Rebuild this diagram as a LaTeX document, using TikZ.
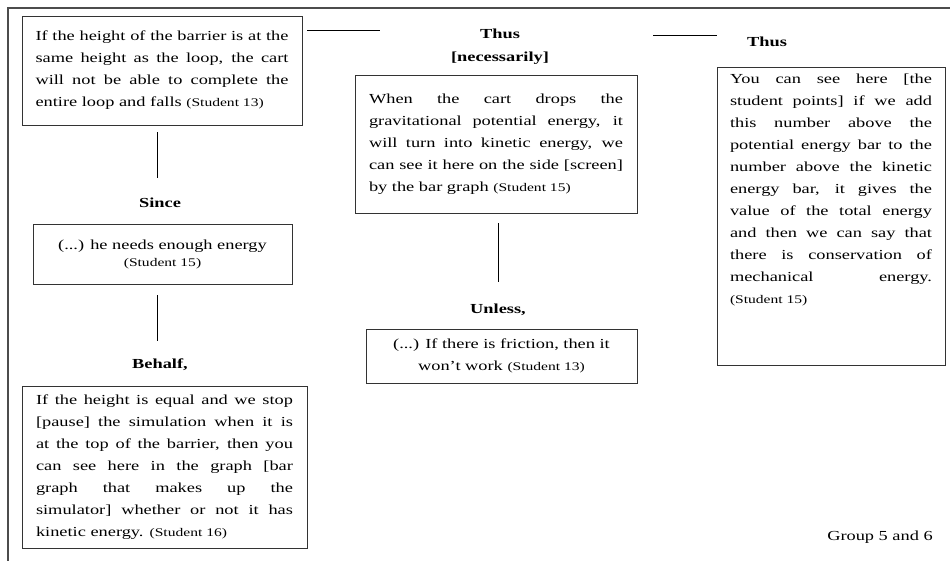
\documentclass[tikz,border=0pt]{standalone}
\usepackage{fontspec}
\setmainfont{Liberation Serif}[FakeStretch=1.33]
\usepackage{tikz}

\newcommand{\who}[1]{{\fontsize{11.7}{14}\selectfont (#1)}}
\newcommand{\nohyph}{\hyphenpenalty=10000 \exhyphenpenalty=10000 \lefthyphenmin=62 \tolerance=9999 \emergencystretch=20pt}

\begin{document}
\begin{tikzpicture}[
  x=1pt, y=-1pt,
  every node/.style={inner sep=0pt, font=\fontsize{13.8}{22}\selectfont},
  quote/.style={draw=black!80, line width=0.9pt, align=justify,
                inner xsep=13pt, inner ysep=4pt},
  centred/.style={draw=black!80, line width=0.9pt, align=center},
  joint/.style={font=\fontsize{13.8}{23}\selectfont\bfseries, align=center},
  link/.style={line width=0.9pt}
]
\useasboundingbox (0,0) rectangle (950,560);
\clip (0,0) rectangle (950,560);
\draw[line width=1.5pt, black!70] (8,8) rectangle (970,580);

\node[quote, text width=253, minimum width=280, minimum height=109] (b1) at (162,70.5)
  {\nohyph If the height of the barrier is at the\linebreak{} same height as the loop, the cart\linebreak{} will not be able to complete the\linebreak{} entire loop and falls \who{Student 13}};
\node[joint] (thus1) at (500,47) {Thus\\{}[necessarily]};
\node[quote, text width=254, minimum width=282, minimum height=138] (b2) at (496,144)
  {\nohyph When the cart drops the\linebreak{} gravitational potential energy, it\linebreak{} will turn into kinetic energy, we\linebreak{} can see it here on the side [screen]\linebreak{} by the bar graph \who{Student 15}};
\node[joint] (thus2) at (767,42) {Thus};
\node[quote, text width=202, minimum width=228, anchor=north, inner ysep=6pt] (b3) at (831,67)
  {\nohyph You can see here [the\linebreak{} student points] if we add\linebreak{} this number above the\linebreak{} potential energy bar to the\linebreak{} number above the kinetic\linebreak{} energy bar, it gives the\linebreak{} value of the total energy\linebreak{} and then we can say that\linebreak{} there is conservation of\linebreak{} mechanical energy.\linebreak{}\who{Student 15}\par\vspace*{34pt}\null};
\node[joint] (since) at (160,203) {Since};
\node[centred, minimum width=259, minimum height=60] (b4) at (162.5,254)
  {(...) he needs enough energy\\[-5pt]\who{Student 15}};
\node[joint] (behalf) at (160,365) {Behalf,};
\node[quote, text width=257, minimum width=285, minimum height=162] (b5) at (164.5,467)
  {\nohyph If the height is equal and we stop\linebreak{} [pause] the simulation when it is\linebreak{} at the top of the barrier, then you\linebreak{} can see here in the graph [bar\linebreak{} graph that makes up the\linebreak{} simulator] whether or not it has\linebreak{} kinetic energy. \who{Student 16}};
\node[joint] (unless) at (498,310) {Unless,};
\node[centred, minimum width=271, minimum height=54] (b6) at (501.5,356)
  {(...) If there is friction, then it\\won't work \who{Student 13}};
\node (group) at (880,537) {Group 5 and 6};

% connectors
\draw[link, shorten <=5, shorten >=71] ([yshift=-15]b1.north east) -- ([yshift=-15]b1.north east -| thus1.west);
\draw[link, shorten <=104, shorten >=30] ([yshift=7]thus1.east |- thus2) -- ([yshift=7]thus2.west);
\draw[link, shorten <=7, shorten >=20] ([xshift=-5]b1.south) -- ([xshift=-5]b1.south |- since.north);
\draw[link, shorten <=11, shorten >=18] ([xshift=-5]b4.south) -- ([xshift=-5]b4.south |- behalf.north);
\draw[link, shorten <=10, shorten >=22] ([xshift=2]b2.south) -- ([xshift=2]b2.south |- unless.north);
\end{tikzpicture}
\end{document}
